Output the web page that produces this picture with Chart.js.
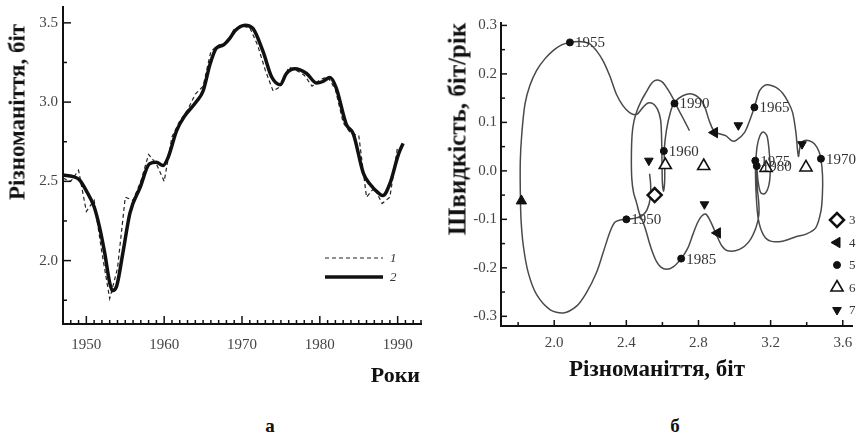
<!DOCTYPE html>
<html lang="uk">
<head>
<meta charset="utf-8">
<title>Різноманіття і швидкість</title>
<script src="https://cdn.jsdelivr.net/npm/chart.js@4.4.1/dist/chart.umd.min.js"></script>
<style>
  html, body { margin: 0; padding: 0; background: #fff; }
  #page { position: relative; width: 862px; height: 435px; overflow: hidden;
          font-family: "Liberation Serif", "DejaVu Serif", serif; }
  .panel { position: absolute; top: 0; height: 400px; }
  #left { left: 0; width: 440px; }
  #right { left: 440px; width: 422px; }
  .title { position: absolute; font-weight: bold; color: #111; white-space: nowrap; line-height: 1; }
  .rot { transform: translate(-50%, -50%) rotate(-90deg); }
  .mid { transform: translate(-50%, -50%); }
</style>
</head>
<body>
<div id="page">
  <div class="panel" id="left"><canvas id="diversityChart"></canvas></div>
  <div class="panel" id="right"><canvas id="phaseChart"></canvas></div>

  <div class="title rot" style="left:17px; top:112px; font-size:23px;">Різноманіття, біт</div>
  <div class="title" style="right:442px; top:364px; font-size:22px;">Роки</div>
  <div class="title rot" style="left:457px; top:129px; font-size:25px;">Швидкість, біт/рік</div>
  <div class="title mid" style="left:657px; top:368px; font-size:23px;">Різноманіття, біт</div>
  <div class="title mid" style="left:270px; top:425px; font-size:19px;">а</div>
  <div class="title mid" style="left:675px; top:425px; font-size:19px;">б</div>
</div>

<script>
// панель а: різноманіття по роках
const smoothYears = [1947.0, 1948.3, 1949.1, 1950.0, 1951.0, 1951.7, 1952.35, 1953.0, 1953.35, 1953.9,
  1954.7, 1955.6, 1956.9, 1958.1, 1959.0, 1959.85, 1960.5, 1961.6, 1962.6, 1964.1,
  1965.0, 1965.9, 1966.7, 1967.6, 1968.4, 1969.1, 1970.4, 1971.4, 1972.7, 1973.8,
  1974.9, 1975.7, 1976.8, 1978.3, 1979.6, 1980.4, 1981.3, 1982.1, 1983.4, 1984.3,
  1985.6, 1986.4, 1987.7, 1988.1, 1989.0, 1990.1, 1990.7];
const smoothDiversity = [2.54, 2.53, 2.51, 2.44, 2.34, 2.21, 2.05, 1.86, 1.81, 1.84,
  2.05, 2.30, 2.46, 2.61, 2.62, 2.60, 2.65, 2.82, 2.91, 3.00,
  3.07, 3.24, 3.34, 3.36, 3.40, 3.45, 3.485, 3.465, 3.32, 3.16,
  3.11, 3.18, 3.21, 3.18, 3.12, 3.13, 3.155, 3.09, 2.86, 2.80,
  2.55, 2.485, 2.42, 2.41, 2.485, 2.67, 2.74];

const rawYears = [1947, 1948, 1949, 1950, 1951, 1952, 1953, 1954, 1955, 1956,
  1957, 1958, 1959, 1960, 1961, 1962, 1963, 1964, 1965, 1966,
  1967, 1968, 1969, 1970, 1971, 1972, 1973, 1974, 1975, 1976,
  1977, 1978, 1979, 1980, 1981, 1982, 1983, 1984, 1985, 1986,
  1987, 1988, 1989, 1990];
const rawDiversity = [2.52, 2.50, 2.57, 2.31, 2.38, 2.05, 1.76, 1.95, 2.40, 2.38,
  2.50, 2.67, 2.61, 2.50, 2.78, 2.88, 2.95, 3.05, 3.10, 3.32,
  3.36, 3.37, 3.46, 3.48, 3.47, 3.36, 3.20, 3.07, 3.10, 3.22,
  3.20, 3.17, 3.10, 3.14, 3.16, 3.08, 2.87, 2.80, 2.79, 2.40,
  2.46, 2.36, 2.40, 2.72];

const leftXLabels = [1950, 1960, 1970, 1980, 1990];
const leftYLabels = [2.0, 2.5, 3.0, 3.5];

// панель б: фазовий портрет (різноманіття, швидкість)
const phaseDiversity = [
  2.529, 2.535, 2.532, 2.515, 2.490, 2.455, 2.425, 2.400,
  2.370, 2.336, 2.308, 2.271, 2.234, 2.179, 2.124, 2.050, 1.976, 1.902, 1.856, 1.829, 1.816,
  1.812, 1.812, 1.820, 1.838, 1.865, 1.902, 1.948, 1.994, 2.041, 2.087,
  2.142, 2.197, 2.234, 2.271, 2.308, 2.345, 2.382, 2.418, 2.456, 2.492, 2.520, 2.545, 2.572,
  2.590, 2.596, 2.598, 2.600, 2.606, 2.612, 2.613, 2.610, 2.622, 2.645, 2.667,
  2.713, 2.769, 2.824, 2.860, 2.889, 2.920, 2.953, 2.985, 3.009, 3.055, 3.085, 3.110,
  3.138, 3.165, 3.193, 3.230, 3.267, 3.300, 3.322, 3.340, 3.354, 3.366, 3.385, 3.414,
  3.445, 3.468, 3.479,
  3.488, 3.487, 3.479, 3.451, 3.400, 3.340, 3.267, 3.200, 3.160, 3.132, 3.120, 3.116, 3.118,
  3.125, 3.140, 3.160, 3.180, 3.192, 3.198, 3.190, 3.168, 3.145, 3.130, 3.123,
  3.126, 3.134, 3.135, 3.119, 3.082, 3.027, 2.962, 2.930, 2.907, 2.880, 2.861, 2.840,
  2.818, 2.796, 2.770, 2.740, 2.704,
  2.660, 2.622, 2.590, 2.566, 2.545, 2.529, 2.510, 2.492, 2.474, 2.456, 2.440, 2.430,
  2.428, 2.432, 2.442, 2.460, 2.485, 2.511, 2.535, 2.557, 2.580, 2.603, 2.630, 2.658,
  2.680, 2.704, 2.728, 2.750];
const phaseSpeed = [
  -0.006, -0.030, -0.058, -0.080, -0.092, -0.097, -0.099, -0.100,
  -0.101, -0.106, -0.127, -0.169, -0.210, -0.251, -0.279, -0.293, -0.286, -0.255, -0.210, -0.155, -0.100,
  -0.040, 0.020, 0.075, 0.138, 0.176, 0.207, 0.231, 0.248, 0.260, 0.265,
  0.267, 0.262, 0.248, 0.227, 0.196, 0.158, 0.134, 0.120, 0.116, 0.131, 0.140, 0.139, 0.128,
  0.105, 0.060, 0.010, -0.025, -0.042, -0.025, 0.005, 0.041, 0.083, 0.122, 0.141,
  0.155, 0.158, 0.141, 0.103, 0.080, 0.076, 0.072, 0.062, 0.063, 0.079, 0.105, 0.131,
  0.165, 0.176, 0.177, 0.172, 0.160, 0.140, 0.120, 0.080, 0.030, 0.055, 0.062, 0.062,
  0.055, 0.040, 0.025,
  -0.010, -0.050, -0.083, -0.117, -0.130, -0.136, -0.145, -0.145, -0.132, -0.100, -0.050, 0.000, 0.021,
  0.050, 0.072, 0.080, 0.072, 0.040, 0.000, -0.030, -0.047, -0.045, -0.020, 0.010,
  -0.035, -0.065, -0.090, -0.117, -0.145, -0.162, -0.165, -0.155, -0.138, -0.115, -0.100, -0.089,
  -0.093, -0.106, -0.130, -0.160, -0.181,
  -0.198, -0.203, -0.198, -0.186, -0.168, -0.150, -0.125, -0.105, -0.090, -0.065, -0.045, -0.015,
  0.030, 0.075, 0.102, 0.125, 0.146, 0.163, 0.178, 0.186, 0.187, 0.182, 0.168, 0.150,
  0.133, 0.116, 0.099, 0.083];

const yearLabels = ['1950', '1955', '1960', '1965', '1970', '1975', '1980', '1985', '1990'];
const yearDiversity = [2.400, 2.087, 2.608, 3.110, 3.479, 3.115, 3.123, 2.704, 2.667];
const yearSpeed = [-0.100, 0.265, 0.041, 0.131, 0.025, 0.021, 0.010, -0.181, 0.139];

const diamondDiversity = [2.557];
const diamondSpeed = [-0.050];
const arrowDiversity = [1.818, 2.889, 2.905];
const arrowSpeed = [-0.062, 0.079, -0.128];
const openTriDiversity = [2.616, 2.829, 3.175, 3.396];
const openTriSpeed = [0.012, 0.010, 0.006, 0.007];
const downTriDiversity = [2.525, 2.833, 3.021, 3.374];
const downTriSpeed = [0.021, -0.069, 0.094, 0.055];

const rightXLabels = [2.0, 2.4, 2.8, 3.2, 3.6];
const rightYLabels = [-0.3, -0.2, -0.1, 0.0, 0.1, 0.2, 0.3];

Chart.defaults.font.family = '"Liberation Serif", "DejaVu Serif", serif';
Chart.defaults.color = '#444';

function toPoints(xs, ys) {
  return xs.map((x, i) => ({ x, y: ys[i] }));
}

function hasLabel(list, v) {
  return list.some((l) => Math.abs(l - v) < 1e-6);
}

// мітки всередину графіка, довші там, де є підпис
const innerTicks = {
  id: "innerTicks",
  afterDraw(chart, args, opts) {
    const { ctx } = chart;
    ctx.save();
    ctx.strokeStyle = "#111";
    ctx.lineWidth = 1.5;
    ["x", "y"].forEach((id) => {
      const scale = chart.scales[id];
      scale.ticks.forEach((t) => {
        const len = t.label ? opts.major : opts.minor;
        const p = scale.getPixelForValue(t.value);
        ctx.beginPath();
        if (scale.isHorizontal()) {
          ctx.moveTo(p, scale.top);
          ctx.lineTo(p, scale.top - len);
        } else {
          ctx.moveTo(scale.right, p);
          ctx.lineTo(scale.right + len, p);
        }
        ctx.stroke();
      });
    });
    ctx.restore();
  }
};

const lineKey = {
  id: "lineKey",
  afterDraw(chart, args, opts) {
    if (!opts.x) return;
    const { ctx } = chart;
    ctx.save();
    chart.data.datasets.forEach((ds, i) => {
      const y = opts.y + i * opts.gap;
      ctx.beginPath();
      ctx.strokeStyle = ds.borderColor;
      ctx.lineWidth = ds.borderWidth;
      ctx.setLineDash(ds.borderDash || []);
      ctx.moveTo(opts.x, y);
      ctx.lineTo(opts.x + opts.length, y);
      ctx.stroke();
      ctx.setLineDash([]);
      ctx.fillStyle = "#333";
      ctx.font = 'italic 13px "Liberation Serif"';
      ctx.textBaseline = "middle";
      ctx.fillText(ds.label, opts.x + opts.length + 7, y + 1);
    });
    ctx.restore();
  }
};

const markerKey = {
  id: "markerKey",
  afterDraw(chart, args, opts) {
    if (!opts.x) return;
    const { ctx } = chart;
    ctx.save();
    let row = 0;
    chart.data.datasets.forEach((ds) => {
      if (!ds.keyLabel) return;
      const y = opts.y + row * opts.gap;
      ctx.fillStyle = ds.pointBackgroundColor;
      ctx.strokeStyle = ds.pointBorderColor;
      ctx.lineWidth = ds.pointBorderWidth;
      Chart.helpers.drawPoint(ctx, {
        pointStyle: ds.pointStyle,
        radius: ds.pointRadius,
        rotation: ds.keyRotation || 0,
        borderWidth: ds.pointBorderWidth
      }, opts.x, y);
      ctx.fillStyle = "#333";
      ctx.font = '13px "Liberation Serif"';
      ctx.textBaseline = "middle";
      ctx.fillText(ds.keyLabel, opts.x + 12, y + 1);
      row += 1;
    });
    ctx.restore();
  }
};

const yearTags = {
  id: "yearTags",
  afterDatasetsDraw(chart, args, opts) {
    if (opts.dataset === undefined) return;
    const { ctx } = chart;
    const meta = chart.getDatasetMeta(opts.dataset);
    ctx.save();
    ctx.fillStyle = "#333";
    ctx.font = '15px "Liberation Serif"';
    ctx.textBaseline = "middle";
    meta.data.forEach((pt, i) => {
      ctx.fillText(yearLabels[i], pt.x + 5, pt.y + 1);
    });
    ctx.restore();
  }
};

function axisBase(min, max, step, labels, digits, padding, size, horizontal) {
  return {
    type: "linear",
    min,
    max,
    grid: { drawOnChartArea: false, drawTicks: false },
    border: { display: true, color: "#111", width: 2 },
    ticks: {
      autoSkip: false,
      maxRotation: 0,
      padding,
      color: "#444",
      font: { size: 15 },
      callback: (v) => (hasLabel(labels, v) ? Number(v).toFixed(digits) : "")
    },
    // мітки на кратних кроку значеннях, а не від min
    afterBuildTicks(scale) {
      const ticks = [];
      for (let k = Math.ceil(min / step - 1e-9); k * step <= max + 1e-9; k++) {
        ticks.push({ value: Math.round(k * step * 1e6) / 1e6 });
      }
      scale.ticks = ticks;
    },
    afterFit(scale) {
      if (horizontal) {
        scale.height = size;
        scale.paddingLeft = 0;
        scale.paddingRight = 0;
      } else {
        scale.width = size;
        scale.paddingTop = 0;
        scale.paddingBottom = 0;
      }
    }
  };
}

new Chart(document.getElementById("diversityChart"), {
  type: "scatter",
  data: {
    datasets: [
      {
        label: "2",
        data: toPoints(smoothYears, smoothDiversity),
        showLine: true,
        cubicInterpolationMode: "monotone",
        borderColor: "#111",
        borderWidth: 3.5,
        pointRadius: 0
      },
      {
        label: "1",
        data: toPoints(rawYears, rawDiversity),
        showLine: true,
        tension: 0,
        borderColor: "#222",
        borderWidth: 1.2,
        borderDash: [4, 3],
        pointRadius: 0
      }
    ]
  },
  options: {
    responsive: true,
    maintainAspectRatio: false,
    animation: false,
    events: [],
    layout: { padding: { top: 7, right: 19, left: 0, bottom: 0 } },
    scales: {
      x: axisBase(1947, 1993, 1, leftXLabels, 0, 12, 76, true),
      y: axisBase(1.6, 3.6, 0.25, leftYLabels, 1, 5, 63, false)
    },
    plugins: {
      legend: { display: false },
      tooltip: { enabled: false },
      innerTicks: { major: 8, minor: 4 },
      lineKey: { x: 325, y: 277, gap: -19, length: 58 }
    }
  },
  plugins: [innerTicks, lineKey]
});

new Chart(document.getElementById("phaseChart"), {
  type: "scatter",
  data: {
    datasets: [
      {
        keyLabel: "3",
        data: toPoints(diamondDiversity, diamondSpeed),
        pointStyle: "rectRot",
        pointRadius: 7,
        pointBackgroundColor: "#fff",
        pointBorderColor: "#111",
        pointBorderWidth: 2.5
      },
      {
        keyLabel: "4",
        data: toPoints(arrowDiversity, arrowSpeed),
        pointStyle: "triangle",
        pointRadius: 6,
        pointRotation: [0, 270, 150],
        keyRotation: 270,
        pointBackgroundColor: "#111",
        pointBorderColor: "#111",
        pointBorderWidth: 1
      },
      {
        keyLabel: "5",
        data: toPoints(yearDiversity, yearSpeed),
        pointStyle: "circle",
        pointRadius: 3.5,
        pointBackgroundColor: "#111",
        pointBorderColor: "#111",
        pointBorderWidth: 1
      },
      {
        keyLabel: "6",
        data: toPoints(openTriDiversity, openTriSpeed),
        pointStyle: "triangle",
        pointRadius: 7,
        pointBackgroundColor: "#fff",
        pointBorderColor: "#111",
        pointBorderWidth: 1.6
      },
      {
        keyLabel: "7",
        data: toPoints(downTriDiversity, downTriSpeed),
        pointStyle: "triangle",
        pointRadius: 5,
        pointRotation: 180,
        keyRotation: 180,
        pointBackgroundColor: "#111",
        pointBorderColor: "#111",
        pointBorderWidth: 1
      },
      {
        data: toPoints(phaseDiversity, phaseSpeed),
        showLine: true,
        tension: 0.3,
        borderColor: "#4a4a4a",
        borderWidth: 1.5,
        pointRadius: 0
      }
    ]
  },
  options: {
    responsive: true,
    maintainAspectRatio: false,
    animation: false,
    events: [],
    layout: { padding: { top: 23, right: 9, left: 0, bottom: 0 } },
    scales: {
      x: axisBase(1.705, 3.654, 0.2, rightXLabels, 1, 8, 74, true),
      y: axisBase(-0.32, 0.305, 0.05, rightYLabels, 1, 4, 61, false)
    },
    plugins: {
      legend: { display: false },
      tooltip: { enabled: false },
      innerTicks: { major: 6, minor: 4 },
      markerKey: { x: 397, y: 220, gap: 22.5 },
      yearTags: { dataset: 2 }
    }
  },
  plugins: [innerTicks, markerKey, yearTags]
});
</script>
</body>
</html>
